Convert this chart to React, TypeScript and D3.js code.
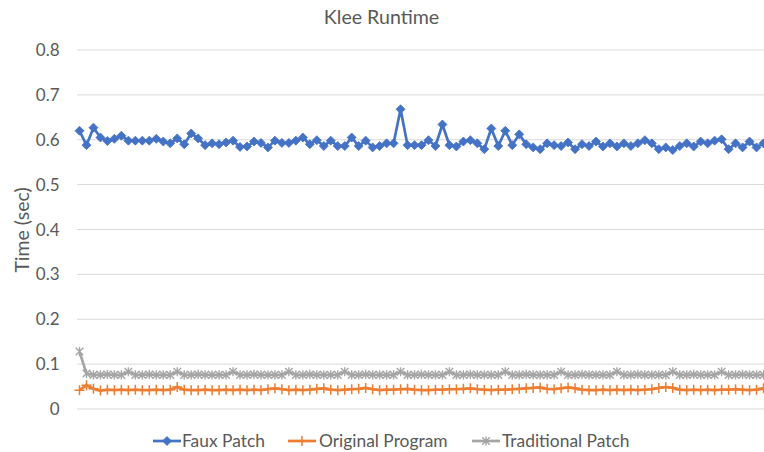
import React from "react";
import * as d3 from "d3";

const fauxPatch = [
  0.620, 0.588, 0.627, 0.605, 0.597, 0.602, 0.609, 0.598, 0.598, 0.598,
  0.598, 0.602, 0.596, 0.592, 0.603, 0.590, 0.614, 0.603, 0.588, 0.592,
  0.590, 0.594, 0.598, 0.584, 0.585, 0.596, 0.593, 0.583, 0.598, 0.593,
  0.593, 0.598, 0.605, 0.590, 0.599, 0.586, 0.598, 0.586, 0.586, 0.605,
  0.586, 0.598, 0.583, 0.586, 0.592, 0.592, 0.668, 0.588, 0.588, 0.588,
  0.599, 0.586, 0.634, 0.588, 0.585, 0.596, 0.599, 0.592, 0.579, 0.625,
  0.586, 0.620, 0.588, 0.612, 0.590, 0.583, 0.579, 0.592, 0.588, 0.586,
  0.594, 0.579, 0.590, 0.586, 0.596, 0.585, 0.592, 0.585, 0.592, 0.586,
  0.592, 0.599, 0.592, 0.579, 0.583, 0.577, 0.586, 0.592, 0.585, 0.596,
  0.592, 0.598, 0.601, 0.579, 0.592, 0.583, 0.596, 0.583, 0.592,
];

const originalProgram = [
  0.042, 0.053, 0.045, 0.041, 0.043, 0.042, 0.043, 0.042, 0.043, 0.042,
  0.042, 0.043, 0.042, 0.043, 0.049, 0.043, 0.042, 0.042, 0.043, 0.042,
  0.042, 0.043, 0.042, 0.043, 0.042, 0.043, 0.042, 0.044, 0.046, 0.044,
  0.042, 0.043, 0.042, 0.043, 0.045, 0.046, 0.043, 0.042, 0.043, 0.044,
  0.045, 0.047, 0.044, 0.042, 0.043, 0.043, 0.044, 0.045, 0.043, 0.042,
  0.042, 0.043, 0.043, 0.044, 0.044, 0.045, 0.046, 0.044, 0.043, 0.042,
  0.043, 0.043, 0.044, 0.045, 0.046, 0.047, 0.048, 0.045, 0.044, 0.046,
  0.048, 0.046, 0.043, 0.042, 0.042, 0.043, 0.042, 0.043, 0.042, 0.043,
  0.042, 0.043, 0.044, 0.047, 0.049, 0.047, 0.043, 0.042, 0.043, 0.042,
  0.043, 0.042, 0.043, 0.043, 0.044, 0.043, 0.042, 0.043, 0.046,
];

const traditionalPatch = [
  0.128, 0.079, 0.076, 0.076, 0.077, 0.076, 0.076, 0.083, 0.076, 0.076,
  0.077, 0.076, 0.076, 0.076, 0.083, 0.076, 0.076, 0.077, 0.076, 0.076,
  0.076, 0.076, 0.083, 0.076, 0.076, 0.077, 0.076, 0.076, 0.076, 0.076,
  0.083, 0.076, 0.076, 0.077, 0.076, 0.076, 0.076, 0.076, 0.083, 0.076,
  0.076, 0.077, 0.076, 0.076, 0.076, 0.076, 0.083, 0.076, 0.076, 0.077,
  0.076, 0.076, 0.076, 0.083, 0.076, 0.076, 0.077, 0.076, 0.076, 0.076,
  0.076, 0.083, 0.076, 0.076, 0.077, 0.076, 0.076, 0.076, 0.076, 0.083,
  0.076, 0.076, 0.077, 0.076, 0.076, 0.076, 0.076, 0.083, 0.076, 0.076,
  0.077, 0.076, 0.076, 0.076, 0.076, 0.083, 0.076, 0.076, 0.077, 0.076,
  0.076, 0.076, 0.083, 0.076, 0.076, 0.077, 0.076, 0.076, 0.076,
];

const categories = fauxPatch.map((_, i) => String(i + 1));
const yTicks = [0, 0.1, 0.2, 0.3, 0.4, 0.5, 0.6, 0.7, 0.8];
const seriesNames = ["Faux Patch", "Original Program", "Traditional Patch"];
const seriesColors = ["#4472C4", "#ED7D31", "#A5A5A5"];
const seriesData = [fauxPatch, originalProgram, traditionalPatch];

const W = 764;
const H = 452;
const FONT = "Lato, 'Open Sans', sans-serif";
const TEXT = "#595959";

function Marker({ kind, x, y, color }: { kind: number; x: number; y: number; color: string }) {
  if (kind === 0) {
    const r = 4.5;
    return <path d={`M${x},${y - r}L${x + r},${y}L${x},${y + r}L${x - r},${y}Z`} fill={color} stroke={color} strokeWidth={0.8} />;
  }
  if (kind === 1) {
    const r = 5;
    return <path d={`M${x - r},${y}L${x + r},${y}M${x},${y - r}L${x},${y + r}`} stroke={color} strokeWidth={1.5} fill="none" />;
  }
  const r = 3.8;
  return (
    <path
      d={`M${x - r},${y - r}L${x + r},${y + r}M${x - r},${y + r}L${x + r},${y - r}M${x},${y - r - 0.8}L${x},${y + r + 0.8}`}
      stroke={color}
      strokeWidth={1.4}
      fill="none"
    />
  );
}

export default function App() {
  const x = d3.scalePoint<string>().domain(categories).range([79.5, 763.5]);
  const y = d3.scaleLinear().domain([0, 0.8]).range([409, 50]);
  const line = d3
    .line<number>()
    .x((_, i) => x(categories[i]) as number)
    .y((d) => y(d));

  const legendItems = [
    { lx: 153, tx: 182 },
    { lx: 288, tx: 319 },
    { lx: 472, tx: 502 },
  ];

  return (
    <svg width={W} height={H} style={{ position: "absolute", left: 0, top: 0, background: "#fff" }}>
      <rect x={0} y={0} width={W} height={H} fill="#fff" />
      <text x={381.5} y={24} textAnchor="middle" fontFamily={FONT} fontSize={19.6} fill={TEXT}>
        Klee Runtime
      </text>
      {yTicks.map((t) => (
        <g key={t}>
          <line x1={77} x2={W} y1={y(t)} y2={y(t)} stroke="#D9D9D9" strokeWidth={1} />
          <text x={59.5} y={y(t) + 6} textAnchor="end" fontFamily={FONT} fontSize={17} fill={TEXT}>
            {String(t)}
          </text>
        </g>
      ))}
      <text
        transform={`translate(29,230) rotate(-90)`}
        textAnchor="middle"
        fontFamily={FONT}
        fontSize={19.5}
        fill={TEXT}
      >
        Time (sec)
      </text>
      {[2, 1, 0].map((s) => (
        <g key={s}>
          <path d={line(seriesData[s]) || ""} fill="none" stroke={seriesColors[s]} strokeWidth={2.7} strokeLinejoin="round" />
          {seriesData[s].map((v, i) => (
            <Marker key={i} kind={s} x={x(categories[i]) as number} y={y(v)} color={seriesColors[s]} />
          ))}
        </g>
      ))}
      {seriesNames.map((name, s) => (
        <g key={name}>
          <line x1={legendItems[s].lx} x2={legendItems[s].lx + 28} y1={441} y2={441} stroke={seriesColors[s]} strokeWidth={2.7} />
          <Marker kind={s} x={legendItems[s].lx + 14} y={441} color={seriesColors[s]} />
          <text x={legendItems[s].tx} y={447} fontFamily={FONT} fontSize={17.4} fill={TEXT}>
            {name}
          </text>
        </g>
      ))}
    </svg>
  );
}
